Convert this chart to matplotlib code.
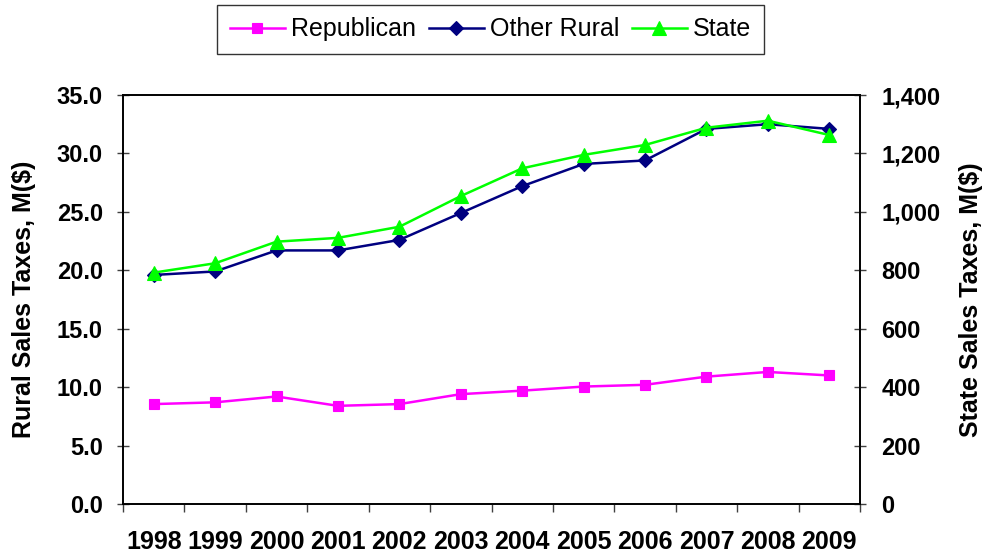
import matplotlib
matplotlib.use("Agg")
import matplotlib.pyplot as plt
from matplotlib.ticker import FixedLocator, FuncFormatter

# sales tax totals by year
years = ["1998", "1999", "2000", "2001", "2002", "2003",
         "2004", "2005", "2006", "2007", "2008", "2009"]
republican = [8.55, 8.7, 9.2, 8.4, 8.55, 9.4, 9.7, 10.05, 10.2, 10.9, 11.3, 11.0]
other_rural = [19.6, 19.9, 21.7, 21.7, 22.6, 24.9, 27.2, 29.1, 29.4, 32.1, 32.5, 32.1]
state = [792, 824, 898, 911, 949, 1054, 1149, 1195, 1229, 1288, 1312, 1263]

FONT = "Liberation Sans"
plt.rcParams["font.family"] = [FONT, "DejaVu Sans"]

fig = plt.figure(figsize=(9.84, 5.54), dpi=100)
ax = fig.add_axes([123 / 984, 50 / 554, 737 / 984, 409 / 554])
ax2 = ax.twinx()

x = list(range(len(years)))

l1, = ax.plot(x, republican, color="#FF00FF", lw=1.8, marker="s", ms=7.5,
              mew=0.8, label="Republican")
l2, = ax.plot(x, other_rural, color="#000080", lw=1.8, marker="D", ms=7,
              mew=0.8, label="Other Rural")
l3, = ax2.plot(x, state, color="#00FF00", lw=1.8, marker="^", ms=10,
               mew=0.8, label="State")

ax.set_xlim(-0.5, len(years) - 0.5)
ax.set_ylim(0, 35)
ax2.set_ylim(0, 1400)

# category labels centred, tick marks on the boundaries
ax.set_xticks(x)
ax.set_xticklabels(years, fontsize=18, fontweight="bold")
ax.xaxis.set_minor_locator(FixedLocator([i - 0.5 for i in range(len(years) + 1)]))
ax.tick_params(axis="x", which="major", length=0, pad=19)
ax.tick_params(axis="x", which="minor", length=5.5, width=1, direction="out",
               color="#404040")

ax.set_yticks([i * 5 for i in range(8)])
ax.yaxis.set_major_formatter(FuncFormatter(lambda v, p: f"{v:.1f}"))
ax.tick_params(axis="y", direction="inout", length=9, width=1, pad=10,
               labelsize=17, color="#404040")
for t in ax.get_yticklabels():
    t.set_fontweight("bold")

ax2.set_yticks([i * 200 for i in range(8)])
ax2.yaxis.set_major_formatter(FuncFormatter(lambda v, p: f"{v:,.0f}"))
ax2.tick_params(axis="y", direction="inout", length=9, width=1, pad=11,
                labelsize=17, color="#404040")
for t in ax2.get_yticklabels():
    t.set_fontweight("bold")

for a in (ax, ax2):
    for s in a.spines.values():
        s.set_linewidth(1.2)
        s.set_color("black")

ax.set_ylabel("Rural Sales Taxes, M($)", fontsize=18, fontweight="bold", va="center")
ax.yaxis.set_label_coords(-0.134, 0.5)
ax2.set_ylabel("State Sales Taxes, M($)", fontsize=18, fontweight="bold", va="center")
ax2.yaxis.set_label_coords(1.151, 0.5)

leg = fig.legend(handles=[l1, l2, l3], loc="upper center", ncol=3,
                 bbox_to_anchor=(0.4985, 0.991), fontsize=18, frameon=True,
                 fancybox=False, edgecolor="black", handlelength=2.2,
                 handletextpad=0.25, columnspacing=0.5, borderpad=0.5,
                 borderaxespad=0)
leg.get_frame().set_linewidth(1.0)

fig.savefig("out.png", dpi=100)
